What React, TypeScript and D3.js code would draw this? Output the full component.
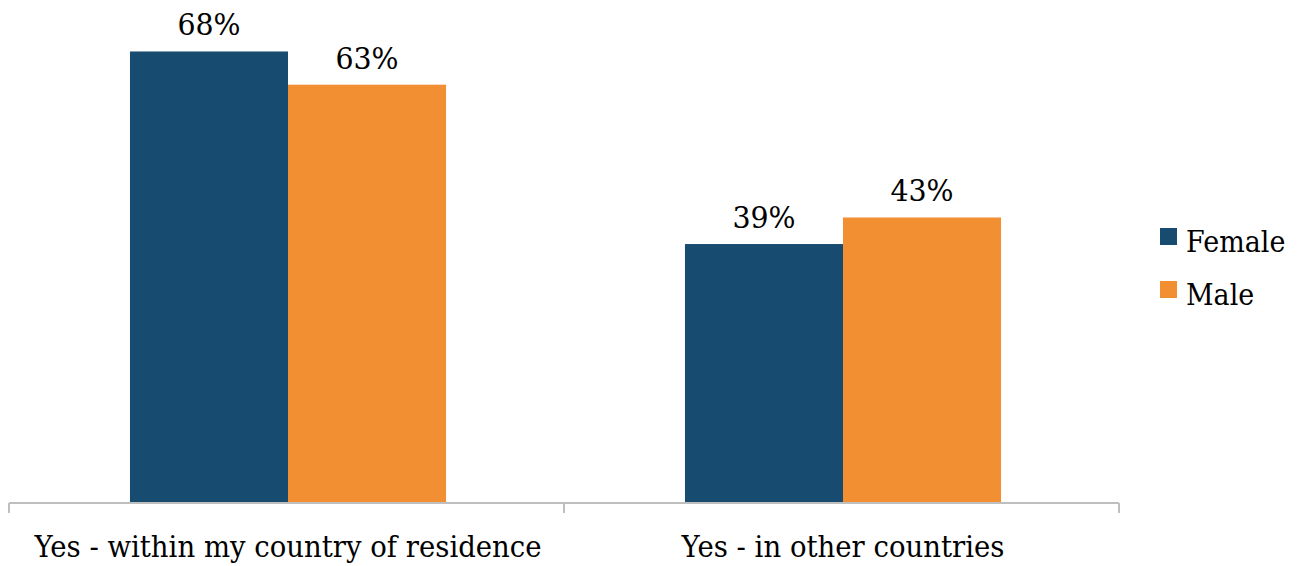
import React from "react";
import * as d3 from "d3";

const categories = ["Yes - within my country of residence", "Yes - in other countries"];
const seriesNames = ["Female", "Male"];
const female = [0.68, 0.39];
const male = [0.63, 0.43];
const colors = ["#174b6f", "#f38f33"];

const W = 1300;
const H = 566;
const FONT = "'DejaVu Serif', serif";

export default function App() {
  const values = [female, male];
  const x0 = d3.scaleBand<string>().domain(categories).range([10.5, 1120.5]).padding(0);
  const x1 = d3
    .scaleBand<string>()
    .domain(seriesNames)
    .range([0, x0.bandwidth()])
    .paddingInner(0)
    .paddingOuter(0.756);
  const y = d3.scaleLinear().domain([0, 0.75]).range([503, 5]);
  const fmt = d3.format(".0%");
  const ts = { fontFamily: FONT, fontSize: "29px" } as React.CSSProperties;

  return (
    <svg
      width={W}
      height={H}
      style={{ position: "absolute", left: 0, top: 0, background: "#fff" }}
    >
      {categories.map((c, ci) => (
        <g key={c} transform={`translate(${x0(c)},0)`}>
          {seriesNames.map((s, si) => {
            const v = values[si][ci];
            const bx = x1(s)!;
            return (
              <g key={s}>
                <rect
                  x={bx}
                  y={y(v)}
                  width={x1.bandwidth()}
                  height={y(0) - y(v)}
                  fill={colors[si]}
                />
                <text
                  transform={`translate(${bx + x1.bandwidth() / 2},${y(v) - 16}) scale(0.98,1)`}
                  textAnchor="middle"
                  style={ts}
                  fill="#000"
                >
                  {fmt(v)}
                </text>
              </g>
            );
          })}
          <text
            transform={`translate(${x0.bandwidth() / 2},557) scale(0.95,1)`}
            textAnchor="middle"
            style={ts}
            fill="#000"
          >
            {c}
          </text>
        </g>
      ))}
      <line x1={9} x2={1119} y1={y(0)} y2={y(0)} stroke="#bfbfbf" strokeWidth={2} />
      {[9, 564, 1119].map((tx, i) => (
        <line key={i} x1={tx} x2={tx} y1={y(0)} y2={y(0) + 10} stroke="#bfbfbf" strokeWidth={2} />
      ))}
      {seriesNames.map((s, i) => (
        <g key={s} transform={`translate(1160,${228 + i * 53})`}>
          <rect x={0} y={0} width={17} height={17} fill={colors[i]} />
          <text transform="translate(26,24) scale(0.93,1)" style={ts} fill="#000">
            {s}
          </text>
        </g>
      ))}
    </svg>
  );
}
